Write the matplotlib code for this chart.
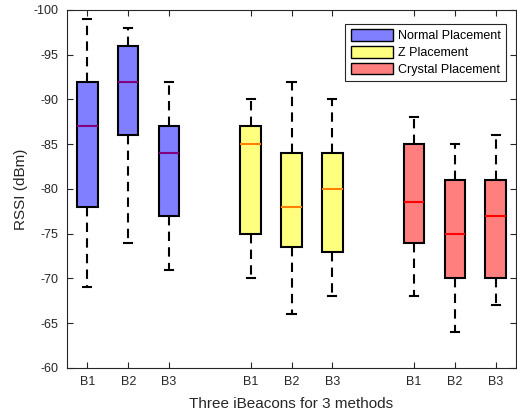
import matplotlib
matplotlib.use("Agg")
import matplotlib.pyplot as plt
from matplotlib.patches import Patch

plt.rcParams['font.family'] = ['Liberation Sans', 'DejaVu Sans']
plt.rcParams['axes.unicode_minus'] = False

tick_labels = ["B1", "B2", "B3"]
methods = ["Normal Placement", "Z Placement", "Crystal Placement"]
fill_colors = ["#7F7FFF", "#FFFF7F", "#FF7F7F"]
median_colors = ["#80007F", "#FF8000", "#FF0000"]

# per method: lists for B1, B2, B3
whisker_low = [[-69, -74, -71], [-70, -66, -68], [-68, -64, -67]]
q1 = [[-78, -86, -77], [-75, -73.5, -73], [-74, -70, -70]]
medians = [[-87, -92, -84], [-85, -78, -80], [-78.5, -75, -77]]
q3 = [[-92, -96, -87], [-87, -84, -84], [-85, -81, -81]]
whisker_high = [[-99, -98, -92], [-90, -92, -90], [-88, -85, -86]]

positions = [[1, 2, 3], [5, 6, 7], [9, 10, 11]]

fig = plt.figure(figsize=(5.17, 4.18), dpi=100)
ax = fig.add_axes([67 / 517, 50 / 418, 449 / 517, 358 / 418])

axis_color = "#262626"
for m in range(3):
    stats = []
    for b in range(3):
        stats.append(dict(whislo=whisker_low[m][b], q1=q1[m][b], med=medians[m][b],
                          q3=q3[m][b], whishi=whisker_high[m][b], fliers=[]))
    ax.bxp(stats, positions=positions[m], widths=0.5, capwidths=0.2,
           patch_artist=True, showfliers=False,
           boxprops=dict(facecolor=fill_colors[m], edgecolor="black", linewidth=1.5),
           medianprops=dict(color=median_colors[m], linewidth=1.5),
           whiskerprops=dict(color="black", linewidth=1.5, linestyle=(0, (4.5, 3))),
           capprops=dict(color="black", linewidth=1.5))

all_pos = [p for grp in positions for p in grp]
ax.set_xticks(all_pos)
ax.set_xticklabels(tick_labels * 3)
ax.set_xlim(0.5, 11.5)
ax.set_ylim(-60, -100)
ax.set_yticks(list(range(-100, -59, 5)))

ax.tick_params(direction="in", top=True, right=True, length=4, width=0.8,
               colors=axis_color, labelsize=9, pad=6)
for sp in ax.spines.values():
    sp.set_color(axis_color)
    sp.set_linewidth(0.8)

ax.set_xlabel("Three iBeacons for 3 methods", fontsize=11, color=axis_color, labelpad=6)
ax.set_ylabel("RSSI (dBm)", fontsize=11, color=axis_color, labelpad=4)

handles = [Patch(facecolor=fill_colors[i], edgecolor="black", linewidth=1.0, label=methods[i])
           for i in range(3)]
leg = ax.legend(handles=handles, loc="upper right", bbox_to_anchor=(0.978, 0.962),
                fontsize=9, frameon=True, fancybox=False, framealpha=1,
                handlelength=3.33, handleheight=1.07, handletextpad=0.4,
                borderpad=0.45, labelspacing=0.28, borderaxespad=0)
leg.get_frame().set_edgecolor(axis_color)
leg.get_frame().set_linewidth(0.8)

fig.savefig("out.png", dpi=100)
